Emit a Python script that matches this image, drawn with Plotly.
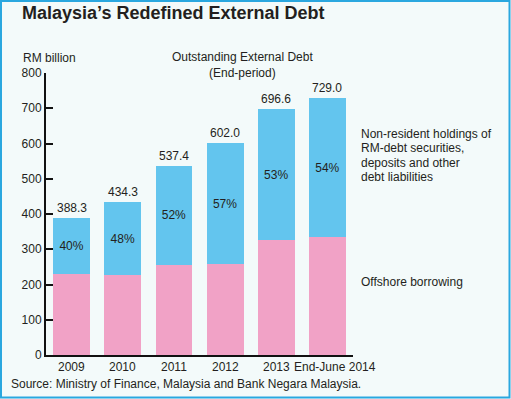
import plotly.graph_objects as go

categories = ["2009", "2010", "2011", "2012", "2013", "End-June 2014"]
offshore = [230, 226, 256, 257, 325, 334]
non_resident = [158.3, 208.3, 281.4, 345.0, 371.6, 395.0]
totals = [388.3, 434.3, 537.4, 602.0, 696.6, 729.0]
share_labels = ["40%", "48%", "52%", "57%", "53%", "54%"]
y_ticks = [0, 100, 200, 300, 400, 500, 600, 700, 800]
nonres_note = ["Non-resident holdings of", "RM-debt securities,",
               "deposits and other", "debt liabilities"]

W, H = 511, 399
L, R, T, B = 46, 158, 73, 44
PW, PH = W - L - R, H - T - B


def px(x):
    return (x - L) / PW


def py(y):
    return (H - B - y) / PH


FONT = "Liberation Sans, Arial, sans-serif"
TXT = "#231f20"
BLUE = "#63c5ee"
PINK = "#f1a2c6"

idx = list(range(len(categories)))

fig = go.Figure()
fig.add_trace(go.Bar(
    x=idx, y=offshore, marker=dict(color=PINK, line=dict(width=0)),
    hoverinfo="skip", name="Offshore borrowing",
))
fig.add_trace(go.Bar(
    x=idx, y=non_resident, marker=dict(color=BLUE, line=dict(width=0)),
    text=share_labels, textposition="inside", insidetextanchor="middle",
    textfont=dict(family=FONT, size=12, color=TXT), textangle=0,
    hoverinfo="skip", name="Non-resident",
))

annotations = []
for i, t in zip(idx, totals):
    annotations.append(dict(
        x=i, y=t, xref="x", yref="y", text=f"{t:.1f}", showarrow=False,
        yanchor="bottom", yshift=1, font=dict(family=FONT, size=12, color=TXT),
    ))
for i, c in zip(idx, categories):
    annotations.append(dict(
        x=i, y=0, xref="x", yref="paper", text=c, showarrow=False,
        yanchor="top", yshift=-3, xshift=(7.5 if len(c) > 6 else 0),
        font=dict(family=FONT, size=12, color=TXT),
    ))

annotations += [
    dict(x=px(20), y=py(13.5), xref="paper", yref="paper",
         text="<b>Malaysia\u2019s Redefined External Debt</b>", showarrow=False,
         xanchor="left", yanchor="middle", font=dict(family=FONT, size=18, color=TXT)),
    dict(x=px(21), y=py(58), xref="paper", yref="paper", text="RM billion",
         showarrow=False, xanchor="left", yanchor="middle",
         font=dict(family=FONT, size=12, color=TXT)),
    dict(x=px(243), y=py(65), xref="paper", yref="paper",
         text="Outstanding External Debt<br>(End-period)", showarrow=False,
         xanchor="center", yanchor="middle", align="center",
         font=dict(family=FONT, size=12, color=TXT)),
    dict(x=px(359), y=py(282), xref="paper", yref="paper", text="Offshore borrowing",
         showarrow=False, xanchor="left", yanchor="middle", align="left",
         font=dict(family=FONT, size=12, color=TXT)),
    dict(x=px(9), y=py(384), xref="paper", yref="paper",
         text="Source: Ministry of Finance, Malaysia and Bank Negara Malaysia.",
         showarrow=False, xanchor="left", yanchor="middle",
         font=dict(family=FONT, size=12, color=TXT)),
]
for k, line in enumerate(nonres_note):
    annotations.append(dict(
        x=px(359), y=py(133.5 + 14.6 * k), xref="paper", yref="paper", text=line,
        showarrow=False, xanchor="left", yanchor="middle", align="left",
        font=dict(family=FONT, size=12, color=TXT)))

shapes = [
    dict(type="rect", xref="paper", yref="paper",
         x0=px(1), x1=px(509.5), y0=py(397.5), y1=py(1),
         line=dict(color="#2aa7df", width=2), fillcolor="rgba(0,0,0,0)", layer="above"),
]

fig.update_layout(
    width=W, height=H, autosize=False,
    margin=dict(l=L, r=R, t=T, b=B, pad=0),
    paper_bgcolor="#f3fafa", plot_bgcolor="#f3fafa",
    barmode="stack", bargap=0.28, showlegend=False,
    font=dict(family=FONT, size=12, color=TXT),
    annotations=annotations, shapes=shapes,
    xaxis=dict(
        range=[-0.5, 5.5], tickvals=idx, showticklabels=False,
        showline=True, linecolor="#111111", linewidth=2,
        ticks="", showgrid=False, zeroline=False, fixedrange=True,
    ),
    yaxis=dict(
        range=[0, 800], tickvals=y_ticks, showline=True, linecolor="#111111",
        linewidth=2, ticks="inside", ticklen=7, tickwidth=2, tickcolor="#111111",
        showgrid=False, zeroline=False, fixedrange=True,
        tickfont=dict(family=FONT, size=12, color=TXT),
    ),
)

fig.write_html(
    "out.html", config=dict(displayModeBar=False),
    post_script="document.body.style.margin='0px';document.body.style.padding='0px';",
)
